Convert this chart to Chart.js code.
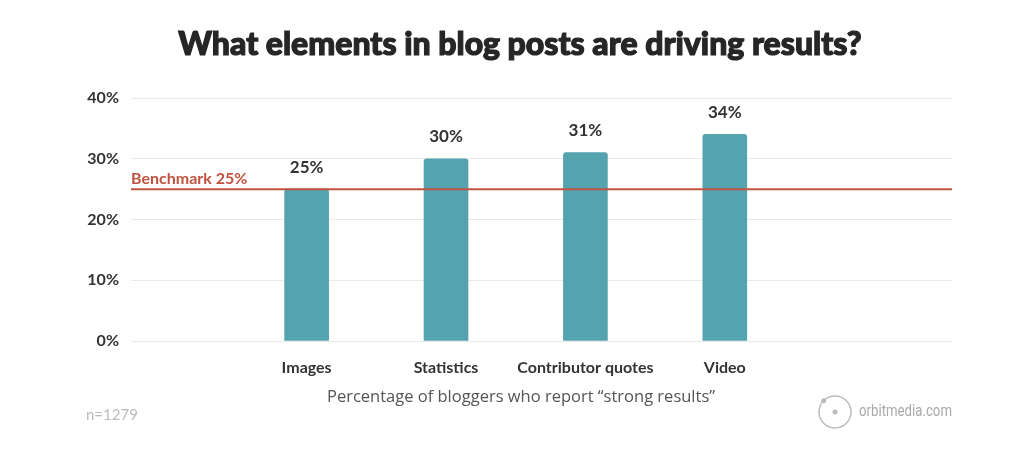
<!DOCTYPE html>
<html>
<head>
<meta charset="utf-8">
<script src="https://cdn.jsdelivr.net/npm/chart.js@4"></script>
<style>
  html, body { margin: 0; padding: 0; background: #fff; }
  #wrap { width: 1030px; height: 468px; position: relative; }
</style>
</head>
<body>
<div id="wrap"><canvas id="chart"></canvas></div>
<script>
// data
const categories = ['Images', 'Statistics', 'Contributor quotes', 'Video'];
const values     = [25, 30, 31, 34];
const benchmark  = 25;
const yTicks     = [0, 10, 20, 30, 40];

const titleText  = 'What elements in blog posts are driving results?';
const axisTitle  = 'Percentage of bloggers who report \u201cstrong results\u201d';
const sampleNote = 'n=1279';
const brand      = 'orbitmedia.com';

const BAR = '#56a3b0';
const RED = '#c0523f';
const INK = '#333333';

// extra text + benchmark line
const extras = {
  id: 'extras',
  afterDatasetsDraw(chart) {
    const { ctx, chartArea: a, scales: { x, y } } = chart;
    ctx.save();

    // benchmark line
    const by = y.getPixelForValue(benchmark);
    ctx.strokeStyle = RED;
    ctx.lineWidth = 2;
    ctx.beginPath();
    ctx.moveTo(a.left, by);
    ctx.lineTo(a.right, by);
    ctx.stroke();
    ctx.fillStyle = RED;
    ctx.font = 'bold 16px Lato';
    ctx.textAlign = 'left';
    ctx.textBaseline = 'alphabetic';
    ctx.fillText('Benchmark ' + benchmark + '%', a.left, by - 5);

    // value labels
    const meta = chart.getDatasetMeta(0);
    ctx.fillStyle = INK;
    ctx.font = 'bold 17px Lato';
    ctx.textAlign = 'center';
    ctx.textBaseline = 'middle';
    meta.data.forEach((bar, i) => {
      ctx.fillText(values[i] + '%', bar.x, bar.y - 22);
    });

    // title
    ctx.fillStyle = '#262626';
    ctx.strokeStyle = '#262626';
    ctx.lineWidth = 1.2;
    ctx.font = '900 32px Lato';
    ctx.fillText(titleText, 520, 45, 686);
    ctx.strokeText(titleText, 520, 45, 686);

    // axis title
    ctx.fillStyle = '#555';
    ctx.font = '16.5px "Open Sans"';
    ctx.fillText(axisTitle, 521, 397, 398);

    // footnote
    ctx.fillStyle = '#bbb';
    ctx.textAlign = 'left';
    ctx.font = '15px Lato';
    ctx.fillText(sampleNote, 86, 415);

    // brand mark
    ctx.strokeStyle = '#bbb';
    ctx.fillStyle = '#bbb';
    ctx.lineWidth = 1.5;
    ctx.beginPath();
    ctx.arc(835, 412, 16, 0, Math.PI * 2);
    ctx.stroke();
    ctx.beginPath();
    ctx.arc(835, 412, 2.5, 0, Math.PI * 2);
    ctx.fill();
    ctx.beginPath();
    ctx.arc(835 - 11.3, 412 - 11.3, 2.5, 0, Math.PI * 2);
    ctx.fill();
    ctx.fillStyle = '#aaa';
    ctx.font = '17px Roboto';
    ctx.fillText(brand, 859, 412, 93);

    ctx.restore();
  }
};

new Chart(document.getElementById('chart'), {
  type: 'bar',
  data: {
    datasets: [{
      data: values.map((v, i) => ({ x: i + 1, y: v })),
      backgroundColor: BAR,
      barThickness: 44,
      borderRadius: { topLeft: 3, topRight: 3 },
      borderSkipped: 'bottom'
    }]
  },
  options: {
    responsive: true,
    maintainAspectRatio: false,
    animation: false,
    layout: { padding: { top: 98, right: 78, bottom: 0, left: 0 } },
    plugins: { legend: { display: false }, tooltip: { enabled: false } },
    scales: {
      x: {
        type: 'linear',
        offset: false,
        min: -0.26,
        max: 5.63,
        grid: { display: false },
        border: { display: false },
        afterBuildTicks: s => { s.ticks = categories.map((c, i) => ({ value: i + 1 })); },
        afterFit: s => { s.height = 127; },
        ticks: {
          autoSkip: false,
          maxRotation: 0,
          padding: 9,
          color: INK,
          font: { family: 'Lato', size: 16, weight: 'bold' },
          callback: v => categories[v - 1] || ''
        }
      },
      y: {
        min: 0,
        max: 40,
        afterBuildTicks: s => { s.ticks = yTicks.map(v => ({ value: v })); },
        afterFit: s => { s.width = 131; },
        grid: { color: '#e9e9e9', lineWidth: 1, drawTicks: false },
        border: { display: false },
        ticks: {
          padding: 12,
          color: INK,
          font: { family: 'Lato', size: 16, weight: 'bold' },
          callback: v => v + '%'
        }
      }
    }
  },
  plugins: [extras]
});
</script>
</body>
</html>
